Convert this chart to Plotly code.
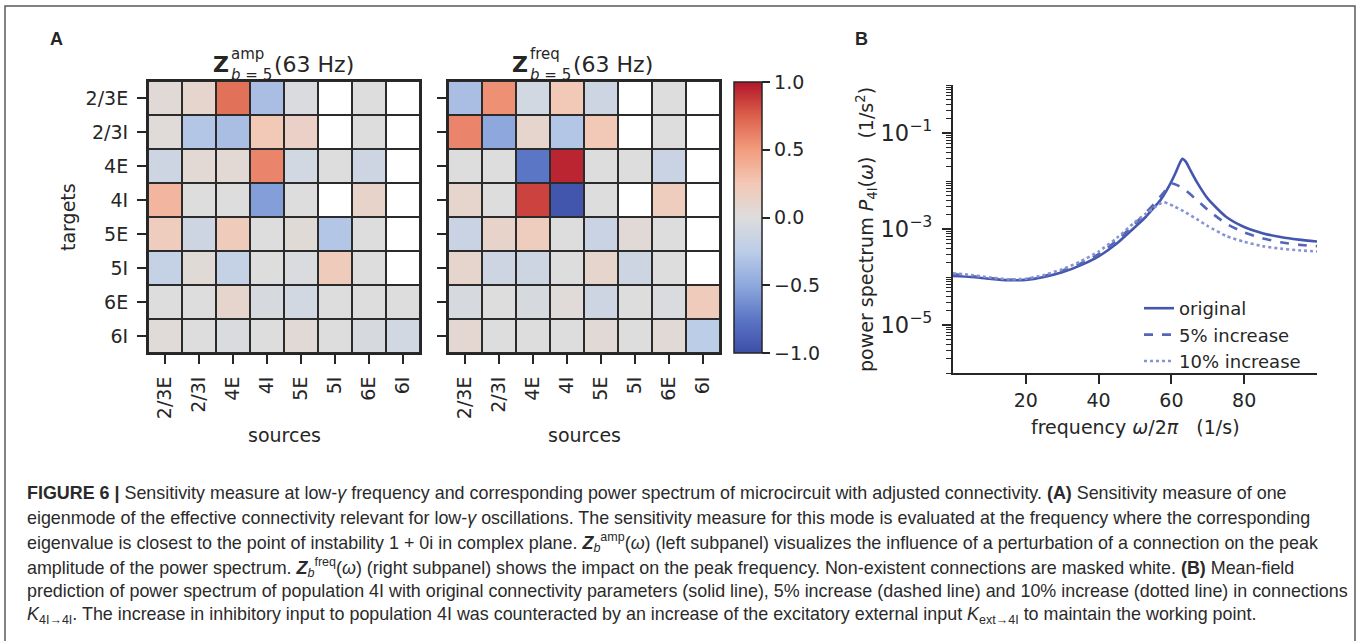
import plotly.graph_objects as go

W, H = 1358, 641

# ---------------- data ----------------
populations = ["2/3E", "2/3I", "4E", "4I", "5E", "5I", "6E", "6I"]

# rows = targets, columns = sources ; None = non-existent connection (masked white)
z_amp = [
    [0.05, 0.10, 0.68, -0.35, -0.03, None, 0.00, None],
    [0.03, -0.30, -0.35, 0.25, 0.15, None, 0.00, None],
    [-0.12, 0.06, 0.06, 0.60, -0.08, 0.00, -0.12, None],
    [0.35, 0.00, 0.00, -0.55, 0.00, None, 0.12, None],
    [0.20, -0.12, 0.22, 0.00, 0.04, -0.30, 0.00, None],
    [-0.18, 0.04, -0.18, 0.00, -0.03, 0.22, 0.00, None],
    [0.00, 0.00, 0.10, -0.05, -0.08, 0.00, 0.00, 0.00],
    [0.03, 0.00, -0.03, 0.00, 0.05, 0.00, -0.05, -0.08],
]
z_freq = [
    [-0.35, 0.55, -0.08, 0.25, -0.12, None, 0.00, None],
    [0.60, -0.50, 0.10, -0.30, 0.25, None, 0.00, None],
    [0.00, 0.00, -0.75, 0.95, 0.00, 0.00, -0.15, None],
    [0.10, 0.00, 0.85, -0.95, 0.00, None, 0.20, None],
    [-0.15, 0.12, 0.20, 0.00, -0.15, 0.05, 0.00, None],
    [0.10, -0.12, -0.12, 0.00, 0.10, -0.12, 0.00, None],
    [-0.05, 0.00, -0.05, 0.03, -0.12, 0.00, -0.03, 0.22],
    [0.08, 0.00, 0.00, 0.00, 0.05, 0.00, 0.05, -0.25],
]
cbar_ticks = [-1.0, -0.5, 0.0, 0.5, 1.0]

freq_original = [0, 5, 10, 15, 20, 25, 30, 35, 40, 45, 50, 53, 55, 57, 59, 61, 62, 63, 64, 65, 67, 70, 75, 80, 85, 90, 95, 100]
p_original = [1.05e-4, 1.0e-4, 9.2e-5, 8.6e-5, 8.7e-5, 1.0e-4, 1.25e-4, 1.75e-4, 2.7e-4, 5.0e-4, 1.1e-3, 1.8e-3,
              2.7e-3, 4.0e-3, 7.0e-3, 1.4e-2, 2.1e-2, 2.9e-2, 2.5e-2, 1.8e-2, 9.5e-3, 4.3e-3, 1.8e-3, 1.1e-3,
              8.2e-4, 6.8e-4, 6.0e-4, 5.5e-4]

freq_5pct = [0, 5, 10, 15, 20, 25, 30, 35, 40, 45, 50, 53, 55, 57, 59, 60, 61, 62, 64, 67, 70, 75, 80, 85, 90, 95, 100]
p_5pct = [1.15e-4, 1.05e-4, 9.5e-5, 8.8e-5, 9.0e-5, 1.05e-4, 1.35e-4, 1.9e-4, 3.0e-4, 5.8e-4, 1.3e-3, 2.2e-3,
          3.2e-3, 4.8e-3, 7.2e-3, 8.8e-3, 8.6e-3, 7.9e-3, 6.3e-3, 4.0e-3, 2.5e-3, 1.3e-3, 8.5e-4, 6.4e-4,
          5.3e-4, 4.7e-4, 4.4e-4]

freq_10pct = [0, 5, 10, 15, 20, 25, 30, 35, 40, 45, 50, 53, 55, 57, 58, 59, 61, 64, 67, 70, 75, 80, 85, 90, 95, 100]
p_10pct = [1.2e-4, 1.1e-4, 9.8e-5, 9.0e-5, 9.2e-5, 1.1e-4, 1.45e-4, 2.1e-4, 3.4e-4, 6.5e-4, 1.4e-3, 2.1e-3,
           2.7e-3, 3.4e-3, 3.6e-3, 3.4e-3, 2.9e-3, 2.2e-3, 1.6e-3, 1.15e-3, 7.2e-4, 5.4e-4, 4.4e-4, 3.9e-4,
           3.6e-4, 3.4e-4]

series_names = ["original", "5% increase", "10% increase"]
freq_ticks = [20, 40, 60, 80]

caption_lines = [
    "<b>FIGURE 6 |</b> Sensitivity measure at low-<i>γ</i> frequency and corresponding power spectrum of microcircuit with adjusted connectivity. <b>(A)</b> Sensitivity measure of one",
    "eigenmode of the effective connectivity relevant for low-<i>γ</i> oscillations. The sensitivity measure for this mode is evaluated at the frequency where the corresponding",
    "eigenvalue is closest to the point of instability 1 + 0i in complex plane. <b><i>Z</i></b><sub><i>b</i></sub><sup>amp</sup>(<i>ω</i>) (left subpanel) visualizes the influence of a perturbation of a connection on the peak",
    "amplitude of the power spectrum. <b><i>Z</i></b><sub><i>b</i></sub><sup>freq</sup>(<i>ω</i>) (right subpanel) shows the impact on the peak frequency. Non-existent connections are masked white. <b>(B)</b> Mean-field",
    "prediction of power spectrum of population 4I with original connectivity parameters (solid line), 5% increase (dashed line) and 10% increase (dotted line) in connections",
    "<i>K</i><sub>4I→4I</sub>. The increase in inhibitory input to population 4I was counteracted by an increase of the excitatory external input <i>K</i><sub>ext→4I</sub> to maintain the working point.",
]

# ---------------- style ----------------
DARK = "#262626"
FONT = "DejaVu Sans"
coolwarm = [
    [0.0, "rgb(60,78,168)"], [0.125, "rgb(92,118,198)"], [0.25, "rgb(142,168,222)"],
    [0.375, "rgb(188,205,232)"], [0.5, "rgb(221,221,221)"], [0.625, "rgb(242,200,182)"],
    [0.75, "rgb(243,156,126)"], [0.875, "rgb(220,96,76)"], [1.0, "rgb(178,22,42)"],
]
line_colors = ["#4456ad", "#5566b8", "#8692d2"]
line_dashes = ["solid", "dash", "dot"]


def px(x):
    return x / W


def py(y):
    return 1 - y / H


fig = go.Figure()


def add_heat(z, xa, ya):
    mask = [[1 if v is None else None for v in row] for row in z]
    fig.add_trace(go.Heatmap(z=mask, x=populations, y=populations, xaxis=xa, yaxis=ya,
                             colorscale=[[0, "white"], [1, "white"]], showscale=False,
                             xgap=2, ygap=2, hoverinfo="skip"))
    fig.add_trace(go.Heatmap(z=z, x=populations, y=populations, xaxis=xa, yaxis=ya,
                             coloraxis="coloraxis", xgap=2, ygap=2))


add_heat(z_amp, "x", "y")
add_heat(z_freq, "x2", "y2")

traces = [(freq_original, p_original), (freq_5pct, p_5pct), (freq_10pct, p_10pct)]
for (f, p), name, c, d in zip(traces, series_names, line_colors, line_dashes):
    fig.add_trace(go.Scatter(x=f, y=p, name=name, mode="lines", xaxis="x3", yaxis="y3",
                             line=dict(color=c, width=2.6, dash=d, shape="spline", smoothing=0.6)))

heat_x = dict(type="category", tickangle=-90, ticks="outside", ticklen=9, tickwidth=1.8,
              tickcolor=DARK, showline=True, mirror=True, linecolor=DARK, linewidth=2,
              tickfont=dict(family=FONT, size=19, color=DARK), showgrid=False, zeroline=False,
              fixedrange=True, ticklabelstandoff=5)
heat_y = dict(heat_x, tickangle=0, autorange="reversed", ticklabelstandoff=5)

ydom = [py(353), py(81)]
layout = dict(
    width=W, height=H, margin=dict(l=0, r=0, t=0, b=0),
    paper_bgcolor="white", plot_bgcolor="white", showlegend=True,
    xaxis=dict(heat_x, domain=[px(148), px(420)], anchor="y"),
    yaxis=dict(heat_y, domain=ydom, anchor="x"),
    xaxis2=dict(heat_x, domain=[px(448), px(720)], anchor="y2"),
    yaxis2=dict(heat_y, domain=ydom, anchor="x2", showticklabels=False),
    xaxis3=dict(domain=[px(953), px(1317)], anchor="y3", range=[0, 100], tickvals=freq_ticks,
                ticks="outside", ticklen=9, tickwidth=1.8, tickcolor=DARK, showline=True,
                linecolor=DARK, linewidth=2, showgrid=False, zeroline=False,
                tickfont=dict(family=FONT, size=19, color=DARK)),
    yaxis3=dict(domain=[py(373), py(85)], anchor="x3", type="log", range=[-6, 0], tick0=-1, dtick=2,
                exponentformat="power", showexponent="all",
                ticks="outside", ticklen=9, tickwidth=1.8, tickcolor=DARK, showline=True,
                linecolor=DARK, linewidth=2, showgrid=False, zeroline=False, ticklabelstandoff=6,
                tickfont=dict(family=FONT, size=18, color=DARK),
                minor=dict(ticks="outside", ticklen=5, tickwidth=1, tickcolor=DARK, dtick="D1",
                           showgrid=False)),
    coloraxis=dict(colorscale=coolwarm, cmin=-1, cmax=1,
                   colorbar=dict(x=px(734), xanchor="left", y=py(82), yanchor="top",
                                 thicknessmode="pixels", thickness=28, lenmode="pixels", len=271,
                                 xpad=0, ypad=0, outlinewidth=1.5, outlinecolor=DARK,
                                 tickvals=cbar_ticks, tickformat=".1f", ticks="outside",
                                 ticklen=8, tickwidth=1.8, tickcolor=DARK,
                                 tickfont=dict(family=FONT, size=19, color=DARK))),
    legend=dict(x=px(1139), y=py(290), xanchor="left", yanchor="top", bgcolor="rgba(0,0,0,0)",
                font=dict(family=FONT, size=18, color=DARK), itemwidth=30, tracegroupgap=0),
)
fig.update_layout(**layout)

# dark backgrounds behind heatmap cells -> cell borders
for xa, ya in [("x", "y"), ("x2", "y2")]:
    fig.add_shape(type="rect", xref=f"{xa} domain", yref=f"{ya} domain", x0=0, x1=1, y0=0, y1=1,
                  fillcolor="#2b2b2b", line_width=0, layer="below")

# frame around whole figure
fig.add_shape(type="rect", xref="paper", yref="paper", x0=px(5), x1=px(1355), y0=-0.2, y1=py(6),
              line=dict(color="#5a5a5a", width=1.5), fillcolor="rgba(0,0,0,0)")

ann = []


def text(x, y, s, size, xanchor="left", yanchor="middle", angle=0, family=FONT, color=DARK):
    ann.append(dict(x=px(x), y=py(y), xref="paper", yref="paper", text=s, showarrow=False,
                    xanchor=xanchor, yanchor=yanchor, textangle=angle,
                    font=dict(family=family, size=size, color=color)))


# panel letters
text(48, 39, "<b>A</b>", 18, family="Liberation Sans")
text(853, 39, "<b>B</b>", 18, family="Liberation Sans")

# heatmap titles
for x0, sup in [(211, "amp"), (510, "freq")]:
    text(x0, 65, "<b>Z</b>", 22)
    text(x0 + 18, 54, sup, 15)
    text(x0 + 18, 75, "<i>b</i> = 5", 15)
text(272, 65, "(63 Hz)", 22)
text(571, 65, "(63 Hz)", 22)

# axis titles
text(68, 217, "targets", 19, xanchor="center", angle=-90)
text(284, 435, "sources", 19, xanchor="center")
text(584, 435, "sources", 19, xanchor="center")
text(1135, 427, "frequency <i>ω</i>/2<i>π</i>\u00a0\u00a0\u00a0(1/s)", 19, xanchor="center")
text(866, 229, "power spectrum <i>P</i><sub>4I</sub>(<i>ω</i>)\u00a0\u00a0\u00a0(1/s<sup>2</sup>)", 19,
     xanchor="center", angle=-90)

# caption
cap_y = [493, 518, 542, 567, 591, 615]
for s, y in zip(caption_lines, cap_y):
    text(25, y, s, 17.9, family="Liberation Sans", color="#2a2a2a")

fig.update_layout(annotations=ann)
fig.write_html("out.html")
